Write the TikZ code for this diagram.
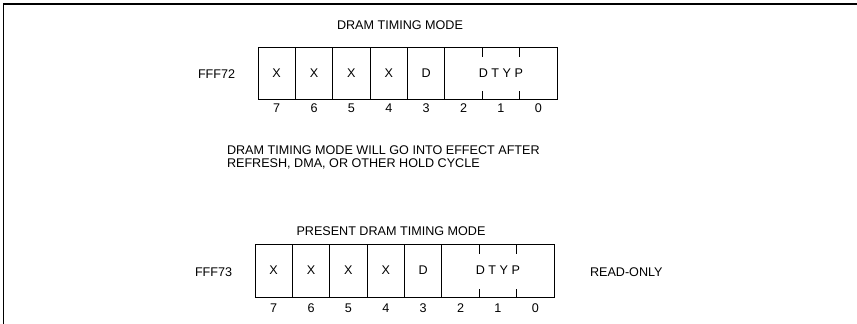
\documentclass[tikz,border=0pt]{standalone}
\usepackage{fontspec}
\setmainfont{Liberation Sans}
\usetikzlibrary{positioning}

\begin{document}
\begin{tikzpicture}[x=1pt, y=-1pt,
  every node/.style={font=\fontsize{12.6}{13.2}\selectfont, inner sep=0pt, outer sep=0pt},
  bitcell/.style={draw, line width=0.8pt, minimum width=37.375pt, minimum height=52pt, anchor=north west},
  fieldcell/.style={bitcell, minimum width=112.125pt},
  fieldtick/.style={line width=0.8pt}]
	\useasboundingbox (0,0) rectangle (857,324);
	% frame
	\draw[line width=1.6pt] (3,4) -- (857,4);
	\draw[line width=0.9pt] (3,4) -- (3,324);
	% register FFF72
	\node (title1) at (400,25) {DRAM TIMING MODE};
	\node[anchor=west] (addr1) at (198,74) {FFF72};
	\foreach \b/\t [count=\k from 0] in {7/X,6/X,5/X,4/X,3/D}
		\node[bitcell] (r1c\b) at (258+\k*37.375,47) {\t};
	\node[fieldcell] (r1f) at (r1c3.north east) {D\hspace{3.5pt}T\hspace{3.5pt}Y\hspace{3.5pt}P\hspace{8pt}};
	\foreach \k in {1,2} {
		\draw[fieldtick] ([xshift=\k*37.375pt]r1f.north west) -- +(0,10);
		\draw[fieldtick] ([xshift=\k*37.375pt]r1f.south west) -- +(0,-8);
	}
	\foreach \b [count=\k from 0] in {7,6,5,4,3,2,1,0}
		\node (r1n\b) at (276.7+\k*37.375,108) {\b};
	% note
	\node[anchor=north west, align=left] (note) at (227,145.5) {DRAM TIMING MODE WILL GO INTO EFFECT AFTER\\REFRESH, DMA, OR OTHER HOLD CYCLE};
	% register FFF73
	\node (title2) at (391,231) {PRESENT DRAM TIMING MODE};
	\node[anchor=west] (addr2) at (195,272) {FFF73};
	\foreach \b/\t [count=\k from 0] in {7/X,6/X,5/X,4/X,3/D}
		\node[bitcell, minimum height=53pt] (r2c\b) at (255+\k*37.375,244) {\t};
	\node[fieldcell, minimum height=53pt] (r2f) at (r2c3.north east) {D\hspace{3.5pt}T\hspace{3.5pt}Y\hspace{3.5pt}P\hspace{8pt}};
	\foreach \k in {1,2} {
		\draw[fieldtick] ([xshift=\k*37.375pt]r2f.north west) -- +(0,10);
		\draw[fieldtick] ([xshift=\k*37.375pt]r2f.south west) -- +(0,-8);
	}
	\foreach \b [count=\k from 0] in {7,6,5,4,3,2,1,0}
		\node (r2n\b) at (273.7+\k*37.375,308) {\b};
	\node[anchor=west] (ro) at (590,272) {READ-ONLY};
\end{tikzpicture}
\end{document}
